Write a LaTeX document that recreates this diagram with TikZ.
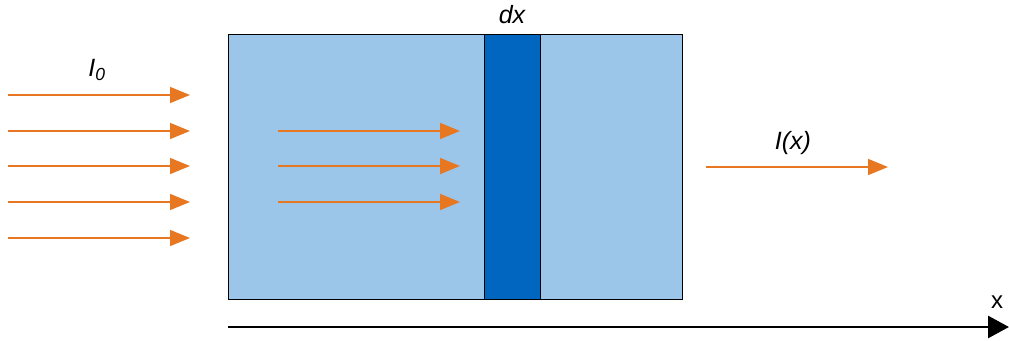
\documentclass[tikz,border=0pt]{standalone}
\usepackage{fontspec}
\setmainfont{Liberation Sans}
\usetikzlibrary{arrows.meta}
\definecolor{ray}{HTML}{E87722}
\definecolor{lightblue}{HTML}{9BC6E9}
\definecolor{darkblue}{HTML}{0066C0}
\begin{document}
\begin{tikzpicture}[x=1pt,y=-1pt,
  rayarrow/.style={draw=ray,line width=1.6pt,-{Triangle[length=20pt,width=16pt]}},
  axisarrow/.style={draw=black,line width=2.8pt,-{Triangle[length=21pt,width=22pt]}},
  lbl/.style={font=\itshape\fontsize{25}{30}\selectfont,inner sep=0pt}]
\useasboundingbox (0,0) rectangle (1009,340);
\node[draw=black,line width=1.2pt,fill=lightblue,minimum width=454pt,minimum height=265pt,inner sep=0pt,anchor=north west] (slab) at (228,34) {};
\node[draw=black,line width=1.2pt,fill=darkblue,minimum width=56pt,minimum height=265pt,inner sep=0pt,anchor=north west] (strip) at (484,34) {};
\foreach \i/\y in {1/95,2/131,3/166,4/202,5/238}{
  \coordinate (ls\i) at (8,\y);
  \coordinate (le\i) at (190,\y);
  \draw[rayarrow] (ls\i) -- (le\i);
}
\foreach \i/\y in {1/131,2/166,3/202}{
  \coordinate (ms\i) at (278,\y);
  \coordinate (me\i) at (460,\y);
  \draw[rayarrow] (ms\i) -- (me\i);
}
\coordinate (rs) at (706,167);
\coordinate (re) at (888,167);
\draw[rayarrow] (rs) -- (re);
\coordinate (as) at (228,327);
\coordinate (ae) at (1009,327);
\draw[axisarrow] (as) -- (ae);
\node[lbl] (i0) at (97,70) {I\textsubscript{0}};
\node[lbl] (dx) at (512,15) {dx};
\node[lbl] (ix) at (793,143) {I(x)};
\node[font=\fontsize{24}{28}\selectfont,inner sep=0pt] (xl) at (997,302) {x};
\end{tikzpicture}
\end{document}
